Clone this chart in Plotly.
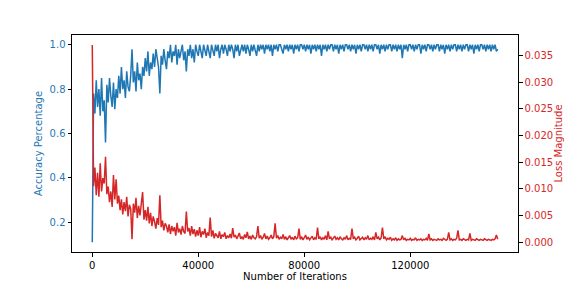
import plotly.graph_objects as go

STEP = 500  # iterations between logged points

accuracy = [
    0.11, 0.78, 0.69, 0.84, 0.72, 0.80, 0.68, 0.85, 0.70, 0.75,
    0.56, 0.82, 0.74, 0.85, 0.77, 0.72, 0.83, 0.71, 0.80, 0.76,
    0.86, 0.78, 0.90, 0.80, 0.84, 0.76, 0.88, 0.81, 0.79, 0.86,
    0.98, 0.83, 0.88, 0.79, 0.92, 0.84, 0.87, 0.80, 0.90, 0.86,
    0.94, 0.88, 0.97, 0.86, 0.92, 0.89, 0.96, 0.90, 0.98, 0.93,
    0.90, 0.78, 0.95, 0.91, 0.98, 0.93, 0.89, 0.97, 0.94, 1.00,
    0.92, 0.97, 0.95, 1.00, 0.91, 0.98, 0.94, 0.97, 1.00, 0.93,
    0.97, 0.88, 0.98, 0.95, 1.00, 0.94, 0.98, 0.92, 1.00, 0.97,
    0.95, 1.00, 0.97, 0.94, 1.00, 0.98, 0.95, 1.00, 0.97, 0.94,
    1.00, 0.98, 0.95, 1.00, 0.97, 1.00, 0.94, 0.98, 1.00, 0.96,
    1.00, 0.98, 0.95, 1.00, 0.97, 1.00, 0.98, 0.94, 1.00, 0.97,
    1.00, 0.95, 0.98, 1.00, 0.97, 1.00, 0.96, 1.00, 0.98, 0.95,
    1.00, 0.97, 1.00, 0.98, 0.95, 1.00, 0.97, 1.00, 0.98, 1.00,
    0.96, 1.00, 0.98, 1.00, 0.97, 1.00, 0.95, 1.00, 0.98, 1.00,
    0.97, 1.00, 1.00, 0.98, 0.96, 1.00, 0.98, 1.00, 0.97, 1.00,
    0.98, 1.00, 0.96, 1.00, 0.98, 1.00, 0.97, 1.00, 1.00, 0.98,
    1.00, 0.97, 1.00, 0.98, 1.00, 0.96, 1.00, 0.98, 1.00, 0.97,
    1.00, 0.98, 1.00, 0.95, 1.00, 0.98, 1.00, 0.97, 1.00, 0.98,
    1.00, 1.00, 0.97, 1.00, 0.98, 1.00, 0.96, 1.00, 0.98, 1.00,
    0.97, 1.00, 1.00, 0.98, 1.00, 0.97, 1.00, 0.98, 1.00, 0.96,
    1.00, 0.98, 1.00, 0.97, 1.00, 1.00, 0.98, 1.00, 0.97, 1.00,
    0.98, 1.00, 0.97, 1.00, 1.00, 0.98, 1.00, 0.96, 1.00, 0.98,
    1.00, 0.97, 1.00, 0.98, 1.00, 1.00, 0.97, 1.00, 0.98, 1.00,
    0.97, 1.00, 0.98, 1.00, 0.94, 1.00, 0.98, 1.00, 0.97, 1.00,
    1.00, 0.98, 1.00, 0.97, 1.00, 0.98, 1.00, 1.00, 0.96, 1.00,
    0.98, 1.00, 0.97, 1.00, 1.00, 0.98, 1.00, 0.97, 1.00, 0.98,
    1.00, 1.00, 0.97, 1.00, 0.98, 1.00, 0.96, 1.00, 0.98, 1.00,
    0.97, 1.00, 0.98, 1.00, 1.00, 0.97, 1.00, 0.98, 1.00, 0.97,
    1.00, 0.98, 1.00, 1.00, 0.97, 1.00, 0.98, 1.00, 0.96, 1.00,
    0.98, 1.00, 0.97, 1.00, 1.00, 0.98, 1.00, 0.97, 1.00, 0.98,
    1.00, 0.97, 1.00, 0.98, 1.00, 0.97, 0.98,
]

loss = [
    0.0370, 0.0105, 0.0140, 0.0088, 0.0130, 0.0085, 0.0148, 0.0095, 0.0120, 0.0110,
    0.0160, 0.0090, 0.0104, 0.0075, 0.0095, 0.0066, 0.0126, 0.0080, 0.0118, 0.0072,
    0.0087, 0.0060, 0.0080, 0.0052, 0.0075, 0.0058, 0.0085, 0.0048, 0.0070, 0.0062,
    0.0005, 0.0072, 0.0055, 0.0083, 0.0045, 0.0068, 0.0050, 0.0075, 0.0094, 0.0042,
    0.0060, 0.0040, 0.0066, 0.0035, 0.0055, 0.0030, 0.0048, 0.0038, 0.0025, 0.0045,
    0.0032, 0.0088, 0.0028, 0.0040, 0.0022, 0.0035, 0.0030, 0.0018, 0.0033, 0.0015,
    0.0030, 0.0020, 0.0028, 0.0012, 0.0036, 0.0018, 0.0025, 0.0014, 0.0030, 0.0020,
    0.0016, 0.0057, 0.0020, 0.0026, 0.0012, 0.0030, 0.0015, 0.0024, 0.0010, 0.0022,
    0.0012, 0.0028, 0.0009, 0.0020, 0.0014, 0.0025, 0.0008, 0.0018, 0.0012, 0.0046,
    0.0010, 0.0022, 0.0007, 0.0016, 0.0012, 0.0008, 0.0020, 0.0006, 0.0014, 0.0010,
    0.0018, 0.0006, 0.0012, 0.0008, 0.0015, 0.0007, 0.0026, 0.0009, 0.0013, 0.0006,
    0.0011, 0.0017, 0.0006, 0.0010, 0.0005, 0.0014, 0.0008, 0.0019, 0.0006, 0.0011,
    0.0005, 0.0013, 0.0008, 0.0006, 0.0010, 0.0030, 0.0007, 0.0012, 0.0005, 0.0009,
    0.0016, 0.0006, 0.0011, 0.0005, 0.0008, 0.0013, 0.0006, 0.0010, 0.0035, 0.0007,
    0.0012, 0.0005, 0.0009, 0.0006, 0.0014, 0.0005, 0.0010, 0.0004, 0.0008, 0.0012,
    0.0005, 0.0009, 0.0004, 0.0011, 0.0006, 0.0008, 0.0025, 0.0005, 0.0010, 0.0004,
    0.0008, 0.0013, 0.0005, 0.0009, 0.0004, 0.0007, 0.0011, 0.0004, 0.0008, 0.0005,
    0.0027, 0.0006, 0.0010, 0.0004, 0.0008, 0.0005, 0.0012, 0.0004, 0.0020, 0.0006,
    0.0009, 0.0004, 0.0007, 0.0011, 0.0005, 0.0008, 0.0004, 0.0010, 0.0006, 0.0004,
    0.0008, 0.0005, 0.0012, 0.0004, 0.0007, 0.0005, 0.0025, 0.0006, 0.0009, 0.0004,
    0.0007, 0.0011, 0.0004, 0.0006, 0.0009, 0.0004, 0.0008, 0.0005, 0.0012, 0.0004,
    0.0007, 0.0005, 0.0010, 0.0004, 0.0018, 0.0006, 0.0009, 0.0004, 0.0008, 0.0027,
    0.0006, 0.0010, 0.0004, 0.0007, 0.0005, 0.0009, 0.0003, 0.0006, 0.0004, 0.0008,
    0.0003, 0.0006, 0.0004, 0.0005, 0.0012, 0.0004, 0.0007, 0.0003, 0.0005, 0.0004,
    0.0007, 0.0003, 0.0005, 0.0004, 0.0008, 0.0003, 0.0005, 0.0004, 0.0006, 0.0003,
    0.0005, 0.0004, 0.0007, 0.0003, 0.0015, 0.0004, 0.0006, 0.0003, 0.0005, 0.0004,
    0.0003, 0.0006, 0.0004, 0.0005, 0.0003, 0.0007, 0.0004, 0.0003, 0.0005, 0.0018,
    0.0004, 0.0006, 0.0003, 0.0005, 0.0004, 0.0007, 0.0022, 0.0004, 0.0005, 0.0003,
    0.0006, 0.0004, 0.0003, 0.0005, 0.0004, 0.0016, 0.0003, 0.0005, 0.0004, 0.0003,
    0.0006, 0.0004, 0.0003, 0.0005, 0.0004, 0.0003, 0.0006, 0.0004, 0.0003, 0.0005,
    0.0004, 0.0003, 0.0005, 0.0004, 0.0006, 0.0013, 0.0005,
]

iterations = [i * STEP for i in range(len(accuracy))]

x_ticks = [0, 40000, 80000, 120000]
acc_ticks = [0.2, 0.4, 0.6, 0.8, 1.0]
loss_ticks = [0.0, 0.005, 0.010, 0.015, 0.020, 0.025, 0.030, 0.035]

BLUE = "#1f77b4"
RED = "#d62728"
FONT = "DejaVu Sans"

fig = go.Figure()
fig.add_trace(go.Scatter(x=iterations, y=accuracy, mode="lines",
                         line=dict(color=BLUE, width=1.5), yaxis="y"))
fig.add_trace(go.Scatter(x=iterations[:len(loss)], y=loss, mode="lines",
                         line=dict(color=RED, width=1.5), yaxis="y2"))

# the page body has an 8px default margin, so the figure is shrunk by 8px
fig.update_layout(
    width=568, height=280,
    margin=dict(l=64, r=58, t=27, b=36),
    paper_bgcolor="white", plot_bgcolor="white",
    showlegend=False,
    font=dict(family=FONT, size=10, color="black"),
    xaxis=dict(
        range=[-7650, 160650], tickvals=x_ticks,
        ticktext=[str(v) for v in x_ticks],
        showgrid=False, zeroline=False, automargin=False,
        showline=True, linecolor="black", linewidth=1, mirror=True,
        ticks="outside", ticklen=3.5, tickcolor="black", tickwidth=1,
        tickfont=dict(size=10, color="black"),
        title=dict(text="Number of Iterations", standoff=3,
                   font=dict(size=10, color="black")),
    ),
    yaxis=dict(
        range=[0.066, 1.044], tickvals=acc_ticks,
        ticktext=[f"{v:.1f}" for v in acc_ticks],
        showgrid=False, zeroline=False, automargin=False,
        showline=True, linecolor="black", linewidth=1,
        ticks="outside", ticklen=3.5, tickcolor="black", tickwidth=1,
        tickfont=dict(size=10, color=BLUE),
        title=dict(text="Accuracy Percentage", standoff=5,
                   font=dict(size=10, color=BLUE)),
    ),
    yaxis2=dict(
        range=[-0.00188, 0.0389], tickvals=loss_ticks,
        ticktext=[f"{v:.3f}" for v in loss_ticks],
        overlaying="y", side="right",
        showgrid=False, zeroline=False, automargin=False,
        showline=True, linecolor="black", linewidth=1,
        ticks="outside", ticklen=3.5, tickcolor="black", tickwidth=1,
        tickfont=dict(size=10, color=RED),
        title=dict(text="Loss Magnitude", standoff=1,
                   font=dict(size=10, color=RED)),
    ),
)

fig.write_html("out.html")
